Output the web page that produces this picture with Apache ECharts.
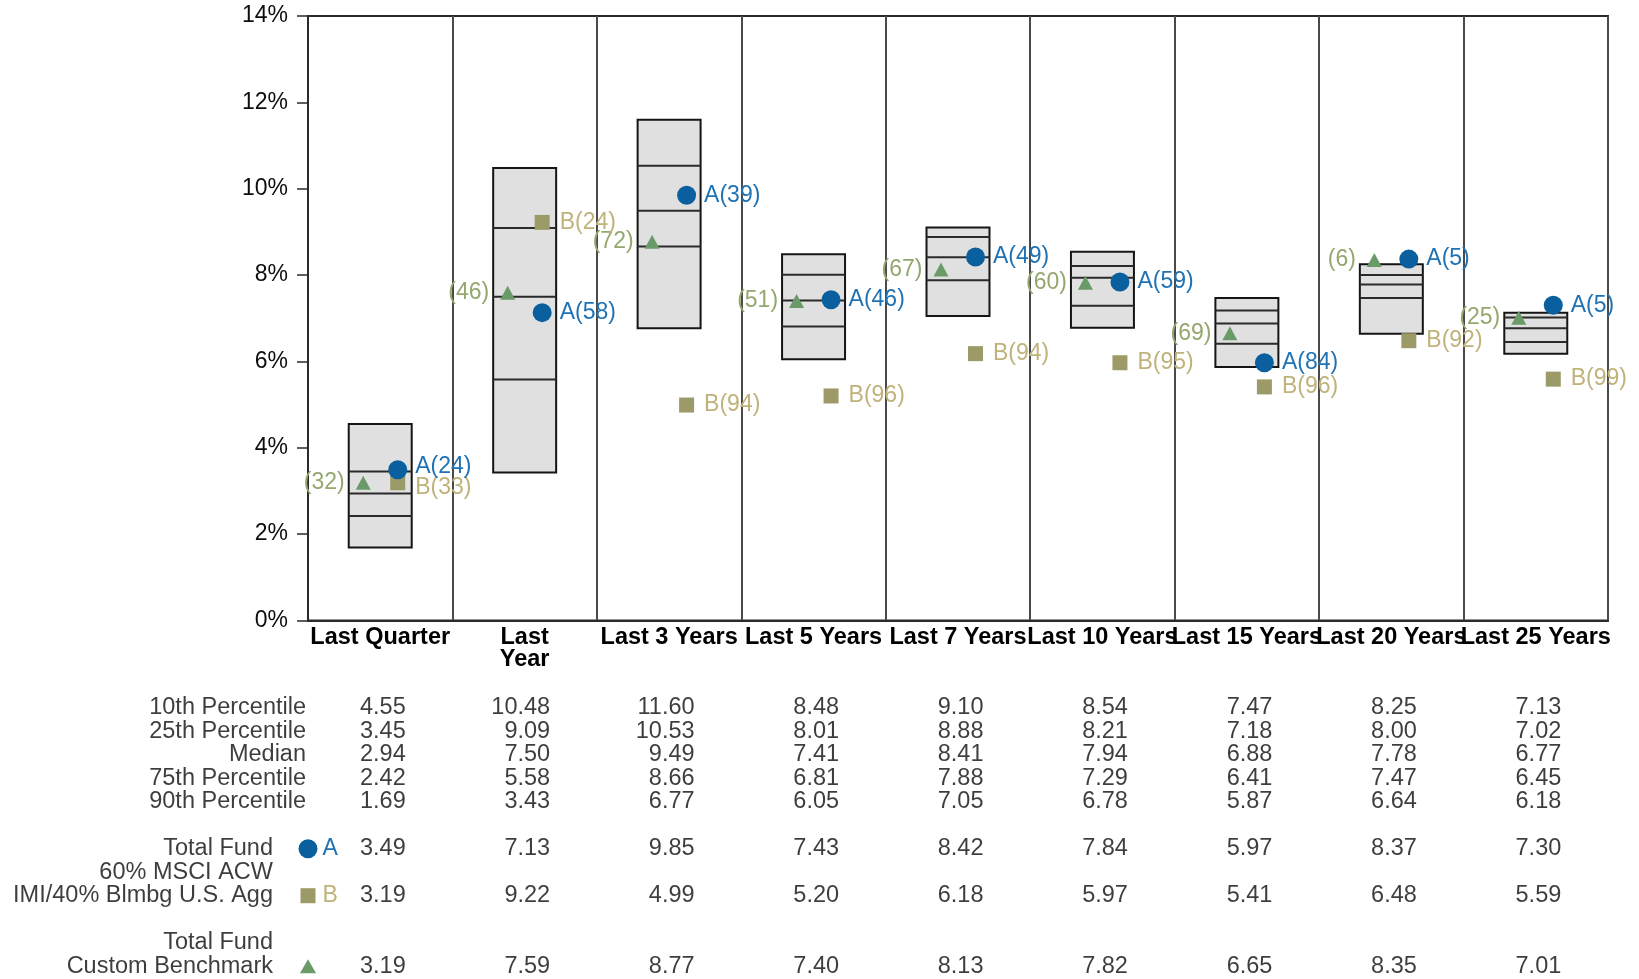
<!DOCTYPE html>
<html>
<head>
<meta charset="utf-8">
<title>Total Fund Returns vs Peer Universe</title>
<script src="https://cdn.jsdelivr.net/npm/echarts@6/dist/echarts.min.js"></script>
<style>
  html, body { margin: 0; padding: 0; background: #ffffff; }
  #chart { width: 1639px; height: 979px; }
</style>
</head>
<body>
<div id="chart"></div>
<script>
// Periods
const categories = ['Last Quarter', 'Last\nYear', 'Last 3 Years', 'Last 5 Years', 'Last 7 Years',
  'Last 10 Years', 'Last 15 Years', 'Last 20 Years', 'Last 25 Years'];

// Peer universe percentiles (%)
const p10 = [4.55, 10.48, 11.60, 8.48, 9.10, 8.54, 7.47, 8.25, 7.13];
const p25 = [3.45, 9.09, 10.53, 8.01, 8.88, 8.21, 7.18, 8.00, 7.02];
const median = [2.94, 7.50, 9.49, 7.41, 8.41, 7.94, 6.88, 7.78, 6.77];
const p75 = [2.42, 5.58, 8.66, 6.81, 7.88, 7.29, 6.41, 7.47, 6.45];
const p90 = [1.69, 3.43, 6.77, 6.05, 7.05, 6.78, 5.87, 6.64, 6.18];

// Total Fund (A), 60% MSCI ACW IMI/40% Blmbg U.S. Agg (B), Custom Benchmark (triangle)
const fundA = [3.49, 7.13, 9.85, 7.43, 8.42, 7.84, 5.97, 8.37, 7.30];
const benchB = [3.19, 9.22, 4.99, 5.20, 6.18, 5.97, 5.41, 6.48, 5.59];
const customBench = [3.19, 7.59, 8.77, 7.40, 8.13, 7.82, 6.65, 8.35, 7.01];

// Percentile ranks
const rankA = [24, 58, 39, 46, 49, 59, 84, 5, 5];
const rankB = [33, 24, 94, 96, 94, 95, 96, 92, 99];
const rankC = [32, 46, 72, 51, 67, 60, 69, 6, 25];

// Y axis ticks
const yTicks = { min: 0, max: 14, interval: 2 };

// Table row names: [slot, text]
const rowNames = [
  [0, '10th Percentile'], [1, '25th Percentile'], [2, 'Median'], [3, '75th Percentile'], [4, '90th Percentile'],
  [6, 'Total Fund'], [7, '60% MSCI ACW'], [8, 'IMI/40% Blmbg U.S. Agg'], [10, 'Total Fund'], [11, 'Custom Benchmark']
];
const tableRows = [
  { slot: 0, values: p10 }, { slot: 1, values: p25 }, { slot: 2, values: median },
  { slot: 3, values: p75 }, { slot: 4, values: p90 },
  { slot: 6, values: fundA }, { slot: 8, values: benchB }, { slot: 11, values: customBench }
];

const FONT = '"Liberation Sans", Arial, Helvetica, sans-serif';
const COLOR_A = '#0a609e', COLOR_A_TEXT = '#1f72b4';
const COLOR_B = '#9c9a66', COLOR_B_TEXT = '#bfb27a';
const COLOR_C = '#6a9a68', COLOR_C_TEXT = '#93a86e';
const TEXT = '#0d0d0d';

const chart = echarts.init(document.getElementById('chart'), null, { renderer: 'canvas' });

function near(i) { return Math.abs(fundA[i] - benchB[i]) < 0.4; }

// Values of the table, right-aligned under each period
const tableSeries = tableRows.map(r => ({
  type: 'scatter', xAxisIndex: 1, yAxisIndex: 1, symbolSize: 0, silent: true, clip: false,
  data: r.values.map((v, i) => [i + 0.5, r.slot, v]),
  label: {
    show: true, position: 'inside', align: 'right', verticalAlign: 'middle', offset: [25.5, 0],
    fontFamily: FONT, fontSize: 23.5, color: TEXT,
    formatter: p => p.value[2].toFixed(2)
  }
}));

// Row names at the left of the table; fund rows leave room for their marker keys
const rowNameSeries = {
  type: 'scatter', xAxisIndex: 1, yAxisIndex: 1, symbolSize: 0, silent: true, clip: false,
  data: rowNames.map(([slot, text]) => ({
    value: [0, slot],
    name: text,
    label: { offset: [slot >= 6 ? -35 : -2, 0] }
  })),
  label: {
    show: true, position: 'inside', align: 'right', verticalAlign: 'middle',
    fontFamily: FONT, fontSize: 23.5, color: TEXT,
    formatter: p => p.name
  }
};

const legendMarks = [
  { slot: 6, symbol: 'circle', size: 19, color: COLOR_A, text: 'A', textColor: COLOR_A_TEXT, dist: 5 },
  { slot: 8, symbol: 'rect', size: 15, color: COLOR_B, text: 'B', textColor: COLOR_B_TEXT, dist: 7 },
  { slot: 11, symbol: 'triangle', size: [16, 14], color: COLOR_C, text: '', textColor: COLOR_C_TEXT, dist: 5 }
].map(m => ({
  type: 'scatter', xAxisIndex: 1, yAxisIndex: 1, clip: false, silent: true,
  symbol: m.symbol, symbolSize: m.size, itemStyle: { color: m.color, opacity: 1 },
  data: [[0, m.slot]],
  label: { show: !!m.text, position: 'right', distance: m.dist, formatter: m.text,
    fontFamily: FONT, fontSize: 23, color: m.textColor }
}));

const option = {
  animation: false,
  backgroundColor: '#ffffff',
  textStyle: { fontFamily: FONT },
  grid: [
    { left: 308, right: 31, top: 16, bottom: 358.5, show: true, borderColor: '#2a2a2a', borderWidth: 2, backgroundColor: 'transparent' },
    { left: 308, right: 31, top: 707.7, height: 258.5 }
  ],
  xAxis: [
    {
      type: 'category', gridIndex: 0, data: categories, boundaryGap: true,
      axisLine: { show: true, lineStyle: { color: '#2a2a2a', width: 2 } },
      axisTick: { show: false },
      splitLine: { show: true, interval: 0, lineStyle: { color: '#4a4a4a', width: 2 } },
      axisLabel: { interval: 0, margin: 6, fontFamily: FONT, fontSize: 23.5, fontWeight: 'bold', color: '#000', lineHeight: 22 }
    },
    {
      type: 'value', gridIndex: 1, min: 0, max: 9, show: false
    }
  ],
  yAxis: [
    {
      type: 'value', gridIndex: 0, min: yTicks.min, max: yTicks.max, interval: yTicks.interval,
      axisLine: { show: true, lineStyle: { color: '#2a2a2a', width: 2 } },
      axisTick: { show: true, length: 11, lineStyle: { color: '#2a2a2a', width: 1.5 } },
      splitLine: { show: false },
      axisLabel: { margin: 20, fontFamily: FONT, fontSize: 23, color: TEXT, formatter: '{value}%',
        showMinLabel: true, showMaxLabel: true }
    },
    {
      type: 'value', gridIndex: 1, min: 0, max: 11, interval: 1, inverse: true, show: false
    }
  ],
  series: [
    {
      // Percentile boxes: 10th-90th range with 25th, median and 75th lines
      type: 'custom', xAxisIndex: 0, yAxisIndex: 0, silent: true,
      data: categories.map((c, i) => [i, p10[i], p25[i], median[i], p75[i], p90[i]]),
      encode: { x: 0, y: [1, 2, 3, 4, 5] },
      renderItem: (params, api) => {
        const i = api.value(0);
        const top = api.coord([i, api.value(1)]);
        const bot = api.coord([i, api.value(5)]);
        const w = api.size([1, 0])[0] * 0.436;
        const x0 = top[0] - w / 2;
        const children = [{
          type: 'rect',
          shape: { x: x0, y: top[1], width: w, height: bot[1] - top[1] },
          style: { fill: '#e0e0e0', stroke: '#151515', lineWidth: 2 }
        }];
        [2, 3, 4].forEach(k => {
          const y = api.coord([i, api.value(k)])[1];
          children.push({ type: 'line', shape: { x1: x0, y1: y, x2: x0 + w, y2: y },
            style: { stroke: '#2a2a2a', lineWidth: 2 } });
        });
        return { type: 'group', children };
      }
    },
    {
      name: 'Total Fund Custom Benchmark', type: 'scatter', xAxisIndex: 0, yAxisIndex: 0,
      symbol: 'triangle', symbolSize: [15, 14], symbolOffset: [-17, 0], itemStyle: { color: COLOR_C, opacity: 1 },
      data: customBench.map((v, i) => [i, v]),
      label: { show: true, position: 'left', distance: 11, fontFamily: FONT, fontSize: 23, color: COLOR_C_TEXT,
        formatter: p => '(' + rankC[p.dataIndex] + ')' }
    },
    {
      name: '60% MSCI ACW IMI/40% Blmbg U.S. Agg', type: 'scatter', xAxisIndex: 0, yAxisIndex: 0,
      symbol: 'rect', symbolSize: 15, symbolOffset: [17.5, 0], itemStyle: { color: COLOR_B, opacity: 1 },
      data: benchB.map((v, i) => [i, v]),
      label: { show: true, position: 'right', distance: 10, fontFamily: FONT, fontSize: 23, color: COLOR_B_TEXT,
        formatter: p => 'B(' + rankB[p.dataIndex] + ')' },
      labelLayout: p => near(p.dataIndex) ? { dy: 5 } : {}
    },
    {
      name: 'Total Fund', type: 'scatter', xAxisIndex: 0, yAxisIndex: 0,
      symbol: 'circle', symbolSize: 19, symbolOffset: [17.5, 0], itemStyle: { color: COLOR_A, opacity: 1 },
      data: fundA.map((v, i) => [i, v]),
      label: { show: true, position: 'right', distance: 8, fontFamily: FONT, fontSize: 23, color: COLOR_A_TEXT,
        formatter: p => 'A(' + rankA[p.dataIndex] + ')' },
      labelLayout: p => near(p.dataIndex) ? { dy: -3 } : {}
    },
    rowNameSeries
  ].concat(tableSeries, legendMarks)
};

chart.setOption(option);
</script>
</body>
</html>
